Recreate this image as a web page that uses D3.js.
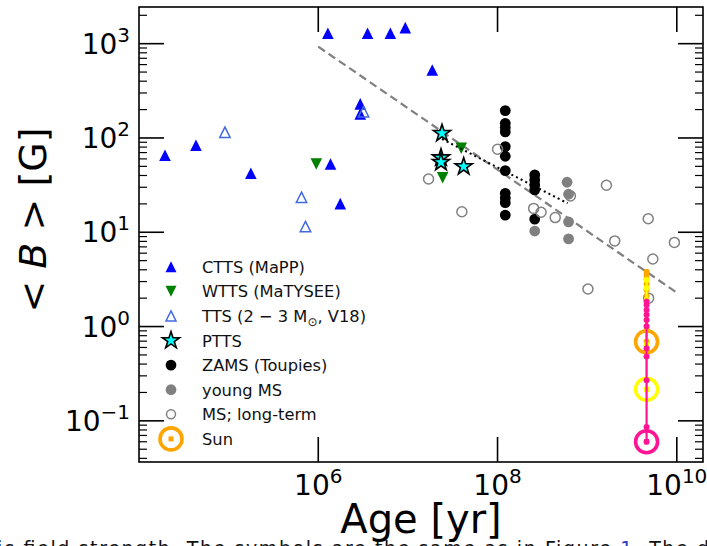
<!DOCTYPE html>
<html>
<head>
<meta charset="utf-8">
<title>Field strength vs age</title>
<script src="https://cdn.jsdelivr.net/npm/d3@7"></script>
<style>
  body { margin: 0; background: #fff; }
  text { font-family: "DejaVu Sans", sans-serif; }
</style>
</head>
<body>
<script>
// ---- data: [age (yr), <B> (G)] ----
var ctts = [[1.95e4, 65.6], [4.32e4, 83.7], [1.77e5, 42.2], [1.37e6, 53], [1.76e6, 20.1],
            [1.28e6, 1289], [3.55e6, 1289], [6.37e6, 1289], [9.35e6, 1479], [1.87e7, 526],
            [2.94e6, 230], [2.94e6, 180]];
var wtts = [[9.5e5, 53], [3.94e7, 77.8], [2.44e7, 37.9]];
var ttsV18 = [[9.1e4, 115], [6.5e5, 23.5], [7.2e5, 11.5], [3.2e6, 190]];
var ptts = [[2.4e7, 112], [2.34e7, 61.8], [2.34e7, 55.2], [4.19e7, 49.7]];
var zams = [[1.22e8, 195], [1.22e8, 143], [1.22e8, 129], [1.22e8, 116], [1.22e8, 81],
            [1.22e8, 64], [1.22e8, 45], [1.22e8, 25.9], [1.22e8, 23.1], [1.22e8, 20.6],
            [1.22e8, 15.2], [2.6e8, 40.6], [2.6e8, 35.9], [2.6e8, 31.8], [2.6e8, 28.1],
            [2.6e8, 13.8]];
var youngMS = [[5.97e8, 33.9], [6.2e8, 25.3], [2.6e8, 10.3], [6.2e8, 12.9], [6.2e8, 8.5]];
var msLong = [[1.0e8, 75.9], [1.70e7, 36.7], [4.0e7, 16.5], [2.53e8, 17.9], [3.06e8, 16.3],
              [4.4e8, 14.3], [6.5e8, 24.3], [1.64e9, 31.5], [4.8e9, 13.9], [2.03e9, 8.1],
              [9.4e9, 7.8], [5.4e9, 5.2], [1.02e9, 2.5], [4.85e9, 2.0]];
var sunAge = 4.6e9;
var sunOrange = [3.82, 3.52, 3.20, 2.83, 2.44, 2.11, 0.92, 0.69, 0.54];
var sunYellow = [3.12, 2.57, 1.91, 1.17, 0.64, 0.216];
var sunPink = [1.84, 1.69, 1.50, 1.33, 1.17, 1.01, 0.59, 0.48, 0.27, 0.086, 0.060];
var sunRingB = {orange: 0.69, yellow: 0.216, pink: 0.060};
var fitDashed = [[1e6, 929], [1e10, 2.29]];
var fitDotted = [[2.4e7, 97.5], [6.05e8, 20.3]];
var xTicks = [1e6, 1e8, 1e10];
var yTicks = [0.1, 1, 10, 100, 1000];
var legendLabels = ["CTTS (MaPP)", "WTTS (MaTYSEE)", "TTS", "PTTS", "ZAMS (Toupies)",
                    "young MS", "MS; long-term", "Sun"];

var W = 707, H = 546;
var pLeft = 139, pRight = 703, pTop = 7, pBottom = 462;

var x = d3.scaleLog().domain([1e4, 1.96e10]).range([pLeft, pRight]);
var y = d3.scaleLog().domain([0.0366, 2449]).range([pBottom, pTop]);

var svg = d3.select("body").append("svg")
        .attr("width", W)
        .attr("height", H);

svg.append("defs").append("clipPath")
        .attr("id", "plot-clip")
        .append("rect")
        .attr("x", pLeft).attr("y", pTop)
        .attr("width", pRight - pLeft).attr("height", pBottom - pTop);

function triPath(s, up) {
    return up ? "M0," + (-s) + "L" + s + "," + s + "L" + (-s) + "," + s + "Z"
              : "M0," + s + "L" + s + "," + (-s) + "L" + (-s) + "," + (-s) + "Z";
}

function starPath(R) {
    var r = R * 0.382, pts = [];
    for (var i = 0; i < 10; i++) {
        var a = -Math.PI / 2 + i * Math.PI / 5, rr = i % 2 ? r : R;
        pts.push([rr * Math.cos(a), rr * Math.sin(a)]);
    }
    return "M" + pts.map(function (p) { return p[0].toFixed(2) + "," + p[1].toFixed(2); }).join("L") + "Z";
}

var plotG = svg.append("g").attr("clip-path", "url(#plot-clip)");

// dashed trend
plotG.append("path")
        .datum(fitDashed)
        .attr("d", d3.line().x(function (d) { return x(d[0]); }).y(function (d) { return y(d[1]); }))
        .attr("fill", "none")
        .attr("stroke", "#808080")
        .attr("stroke-width", 2.2)
        .attr("stroke-dasharray", "8,4.5");

function pathMarks(data, d, fill, stroke, sw) {
    plotG.append("g").selectAll("path")
            .data(data)
            .enter().append("path")
            .attr("transform", function (p) { return "translate(" + x(p[0]) + "," + y(p[1]) + ")"; })
            .attr("d", d)
            .attr("fill", fill)
            .attr("stroke", stroke)
            .attr("stroke-width", sw);
}

function circleMarks(data, r, fill, stroke, sw) {
    plotG.append("g").selectAll("circle")
            .data(data)
            .enter().append("circle")
            .attr("cx", function (p) { return x(p[0]); })
            .attr("cy", function (p) { return y(p[1]); })
            .attr("r", r)
            .attr("fill", fill)
            .attr("stroke", stroke)
            .attr("stroke-width", sw);
}

pathMarks(ctts, triPath(5.8, true), "#0000ff", "none", 0);
pathMarks(wtts, triPath(5.8, false), "#008000", "none", 0);
pathMarks(ttsV18, triPath(5.2, true), "none", "#4169e1", 1.5);
pathMarks(ptts, starPath(9), "#00ffff", "#000", 1.6);
circleMarks(zams, 5.4, "#000", "none", 0);
circleMarks(youngMS, 5.4, "#808080", "none", 0);
circleMarks(msLong, 5, "none", "#808080", 1.5);

// dotted PTTS -> ZAMS line
plotG.append("path")
        .datum(fitDotted)
        .attr("d", d3.line().x(function (d) { return x(d[0]); }).y(function (d) { return y(d[1]); }))
        .attr("fill", "none")
        .attr("stroke", "#000")
        .attr("stroke-width", 2)
        .attr("stroke-dasharray", "2,3.2");

// solar tracks
function sunTrack(vals, ringB, color) {
    var g = plotG.append("g");
    g.append("line")
            .attr("x1", x(sunAge)).attr("x2", x(sunAge))
            .attr("y1", y(d3.max(vals))).attr("y2", y(d3.min(vals)))
            .attr("stroke", color).attr("stroke-width", 2.2);
    g.selectAll("circle.dot")
            .data(vals)
            .enter().append("circle")
            .attr("class", "dot")
            .attr("cx", x(sunAge))
            .attr("cy", function (d) { return y(d); })
            .attr("r", 3)
            .attr("fill", color);
    g.append("circle")
            .attr("cx", x(sunAge)).attr("cy", y(ringB))
            .attr("r", 11).attr("fill", "none")
            .attr("stroke", color).attr("stroke-width", 3.6);
    g.append("rect")
            .attr("x", x(sunAge) - 2.5).attr("y", y(ringB) - 2.5)
            .attr("width", 5).attr("height", 5)
            .attr("fill", color);
}
sunTrack(sunOrange, sunRingB.orange, "#ffa500");
sunTrack(sunYellow, sunRingB.yellow, "#ffff00");
sunTrack(sunPink, sunRingB.pink, "#ff1493");

// frame + ticks
var axG = svg.append("g").attr("stroke", "#000");
axG.append("rect")
        .attr("x", pLeft).attr("y", pTop)
        .attr("width", pRight - pLeft).attr("height", pBottom - pTop)
        .attr("fill", "none").attr("stroke-width", 1.6);

xTicks.forEach(function (t) {
    [[pBottom, -25], [pTop, 25]].forEach(function (s) {
        axG.append("line").attr("x1", x(t)).attr("x2", x(t))
                .attr("y1", s[0]).attr("y2", s[0] + s[1]).attr("stroke-width", 1.6);
    });
});

var yMinor = [];
[0.01, 0.1, 1, 10, 100, 1000].forEach(function (dec) {
    for (var k = 2; k <= 9; k++) {
        var v = dec * k;
        if (v > y.domain()[0] && v < y.domain()[1]) yMinor.push(v);
    }
});
yTicks.forEach(function (t) {
    axG.append("line").attr("x1", pLeft).attr("x2", pLeft + 25).attr("y1", y(t)).attr("y2", y(t)).attr("stroke-width", 1.6);
    axG.append("line").attr("x1", pRight).attr("x2", pRight - 25).attr("y1", y(t)).attr("y2", y(t)).attr("stroke-width", 1.6);
});
yMinor.forEach(function (t) {
    axG.append("line").attr("x1", pLeft).attr("x2", pLeft + 8).attr("y1", y(t)).attr("y2", y(t)).attr("stroke-width", 1.2);
    axG.append("line").attr("x1", pRight).attr("x2", pRight - 8).attr("y1", y(t)).attr("y2", y(t)).attr("stroke-width", 1.2);
});

function powLabel(g, px, py, anchor, exp) {
    var t = g.append("text")
            .attr("x", px).attr("y", py)
            .attr("text-anchor", anchor)
            .attr("font-size", 28)
            .attr("fill", "#000");
    t.append("tspan").text("10");
    t.append("tspan").attr("dy", -12).attr("font-size", 20).text(exp);
}

xTicks.forEach(function (t) {
    powLabel(svg, x(t), 495, "middle", String(Math.round(Math.log10(t))));
});
yTicks.forEach(function (t) {
    var e = Math.round(Math.log10(t));
    powLabel(svg, 130, y(t) + 10, "end", e < 0 ? "\u2212" + (-e) : String(e));
});

// axis titles
svg.append("text")
        .attr("x", 421).attr("y", 533)
        .attr("text-anchor", "middle")
        .attr("font-size", 40)
        .text("Age [yr]");

var yl = svg.append("text")
        .attr("transform", "translate(46,220) rotate(-90)")
        .attr("text-anchor", "middle")
        .attr("font-size", 38);
yl.append("tspan").text("< ");
yl.append("tspan").attr("font-style", "italic").text("B");
yl.append("tspan").text(" > [G]");

// legend
var legX = 171, legTx = 202, legY0 = 266.7, legDy = 24.6;
var legG = svg.append("g");
legendLabels.forEach(function (lab, i) {
    var ly = legY0 + i * legDy;
    var tx = legG.append("text")
            .attr("x", legTx).attr("y", ly + 6)
            .attr("font-size", 16.3)
            .attr("fill", "#111");
    if (lab === "TTS") {
        tx.append("tspan").text("TTS (2 \u2212 3 M");
        tx.append("tspan").attr("dy", 4).attr("font-size", 12).text("\u2299");
        tx.append("tspan").attr("dy", -4).text(", V18)");
    } else {
        tx.text(lab);
    }
});
function legMark(i) { return "translate(" + legX + "," + (legY0 + i * legDy) + ")"; }
legG.append("path").attr("transform", legMark(0)).attr("d", triPath(5.5, true)).attr("fill", "#0000ff");
legG.append("path").attr("transform", legMark(1)).attr("d", triPath(5.5, false)).attr("fill", "#008000");
legG.append("path").attr("transform", legMark(2)).attr("d", triPath(5, true)).attr("fill", "none").attr("stroke", "#4169e1").attr("stroke-width", 1.5);
legG.append("path").attr("transform", legMark(3)).attr("d", starPath(9)).attr("fill", "#00ffff").attr("stroke", "#000").attr("stroke-width", 1.6);
legG.append("circle").attr("transform", legMark(4)).attr("r", 5.4).attr("fill", "#000");
legG.append("circle").attr("transform", legMark(5)).attr("r", 5.4).attr("fill", "#808080");
legG.append("circle").attr("transform", legMark(6)).attr("r", 4.5).attr("fill", "none").attr("stroke", "#808080").attr("stroke-width", 1.5);
legG.append("circle").attr("transform", legMark(7)).attr("r", 11).attr("fill", "none").attr("stroke", "#ffa500").attr("stroke-width", 3.6);
legG.append("rect").attr("transform", legMark(7)).attr("x", -2.5).attr("y", -2.5).attr("width", 5).attr("height", 5).attr("fill", "#ffa500");

// cut-off caption line below the figure
var cap = svg.append("text")
        .attr("x", -3).attr("y", 555)
        .attr("font-family", "Liberation Serif, serif")
        .attr("font-size", 19)
        .attr("fill", "#111")
        .attr("textLength", 712)
        .attr("lengthAdjust", "spacing");
cap.append("tspan").text("ic field strength. The symbols are the same as in Figure ");
cap.append("tspan").attr("fill", "#2b3fc0").text("1");
cap.append("tspan").text(". The d");
</script>
</body>
</html>
